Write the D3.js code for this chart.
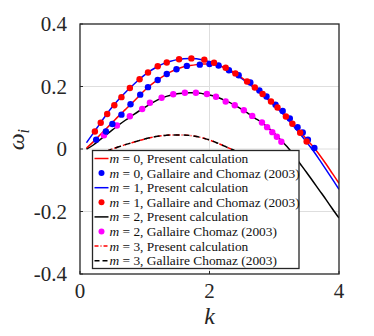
<!DOCTYPE html>
<html>
<head>
<meta charset="utf-8">
<script src="https://cdn.jsdelivr.net/npm/d3@7"></script>
<style>
body { margin:0; background:#fff; }
</style>
</head>
<body>
<svg id="chart" width="374" height="336"></svg>
<script>
// wavenumber k / growth rate omega_i
var m0_line = [[0.1,0.003],[0.2,0.022],[0.3,0.043],[0.4,0.064],[0.5,0.085],[0.6,0.106],[0.7,0.126],[0.8,0.146],[0.9,0.167],[1.0,0.188],
  [1.1,0.206],[1.2,0.221],[1.3,0.235],[1.4,0.247],[1.5,0.256],[1.6,0.263],[1.7,0.267],[1.8,0.270],[1.9,0.272],[2.0,0.272],
  [2.1,0.269],[2.2,0.263],[2.3,0.254],[2.4,0.242],[2.5,0.228],[2.6,0.213],[2.7,0.197],[2.8,0.180],[2.9,0.162],[3.0,0.143],
  [3.1,0.123],[3.2,0.101],[3.3,0.078],[3.4,0.055],[3.5,0.031],[3.6,0.008],[3.7,-0.019],[3.8,-0.048],[3.9,-0.079],[4.0,-0.110]];
var m1_line = [[0.1,0.020],[0.2,0.049],[0.3,0.079],[0.4,0.108],[0.5,0.135],[0.6,0.159],[0.7,0.181],[0.8,0.201],[0.9,0.220],[1.0,0.237],
  [1.1,0.252],[1.2,0.264],[1.3,0.274],[1.4,0.281],[1.5,0.286],[1.6,0.289],[1.7,0.290],[1.8,0.289],[1.9,0.285],[2.0,0.279],
  [2.1,0.272],[2.2,0.263],[2.3,0.252],[2.4,0.239],[2.5,0.225],[2.6,0.210],[2.7,0.194],[2.8,0.177],[2.9,0.159],[3.0,0.140],
  [3.1,0.119],[3.2,0.097],[3.3,0.073],[3.4,0.048],[3.5,0.022],[3.6,-0.005],[3.7,-0.035],[3.8,-0.066],[3.9,-0.097],[4.0,-0.129]];
var m2_line = [[0.1,0.000],[0.2,0.012],[0.3,0.028],[0.4,0.045],[0.5,0.061],[0.6,0.077],[0.7,0.092],[0.8,0.106],[0.9,0.120],[1.0,0.133],
  [1.1,0.146],[1.2,0.157],[1.3,0.166],[1.4,0.172],[1.5,0.177],[1.6,0.179],[1.7,0.180],[1.8,0.180],[1.9,0.177],[2.0,0.173],
  [2.1,0.167],[2.2,0.159],[2.3,0.150],[2.4,0.139],[2.5,0.127],[2.6,0.113],[2.7,0.099],[2.8,0.086],[2.9,0.069],[3.0,0.050],
  [3.1,0.029],[3.2,0.007],[3.3,-0.019],[3.4,-0.047],[3.5,-0.075],[3.6,-0.104],[3.7,-0.133],[3.8,-0.162],[3.9,-0.192],[4.0,-0.221]];
var m3_line = [[0.4,-0.008],[0.5,0.000],[0.6,0.007],[0.7,0.014],[0.8,0.020],[0.9,0.026],[1.0,0.032],[1.1,0.037],[1.2,0.041],[1.3,0.043],
  [1.4,0.045],[1.5,0.045],[1.6,0.045],[1.7,0.043],[1.8,0.040],[1.9,0.035],[2.0,0.029],[2.1,0.021],[2.2,0.012],[2.3,0.003],[2.4,-0.006]];

var m0_dots = [[0.25,0.030],[0.40,0.056],[0.50,0.080],[0.64,0.110],[0.78,0.143],[0.93,0.174],[1.05,0.198],[1.20,0.221],[1.34,0.240],
  [1.49,0.255],[1.65,0.266],[1.85,0.270],[2.00,0.272],[2.14,0.267],[2.30,0.252],[2.45,0.236],[2.63,0.213],[2.77,0.187],[2.88,0.168],
  [3.02,0.142],[3.13,0.122],[3.24,0.098],[3.36,0.070],[3.44,0.053],[3.52,0.030],[3.62,0.003]];
var m1_dots = [[0.23,0.056],[0.32,0.084],[0.42,0.112],[0.53,0.140],[0.64,0.166],[0.77,0.195],[0.92,0.223],[1.05,0.245],[1.20,0.265],
  [1.34,0.277],[1.53,0.287],[1.72,0.290],[1.92,0.286],[2.07,0.276],[2.25,0.260],[2.40,0.242],[2.58,0.216],[2.70,0.197],[2.82,0.176],
  [2.95,0.152],[3.05,0.133],[3.18,0.104],[3.28,0.081],[3.40,0.052],[3.50,0.024]];
var m2_dots = [[0.37,0.044],[0.57,0.075],[0.77,0.105],[0.96,0.128],[1.08,0.148],[1.26,0.164],[1.44,0.175],[1.62,0.180],[1.79,0.180],
  [1.96,0.176],[2.10,0.167],[2.25,0.152],[2.39,0.140],[2.53,0.124],[2.66,0.106],[2.81,0.085],[2.89,0.070],[2.97,0.054],[3.04,0.039],[3.11,0.023]];

var x_ticks = [0, 2, 4];
var y_ticks = [-0.4, -0.2, 0, 0.2, 0.4];
var legend_labels = [
  ["0", "Present calculation"],
  ["0", "Gallaire and Chomaz (2003)"],
  ["1", "Present calculation"],
  ["1", "Gallaire and Chomaz (2003)"],
  ["2", "Present calculation"],
  ["2", "Gallaire Chomaz (2003)"],
  ["3", "Present calculation"],
  ["3", "Gallaire Chomaz (2003)"]
];

var FONT = 'Liberation Serif';
var p_left = 80, p_right = 339, p_top = 24, p_bottom = 274;
var svg = d3.select('#chart');
var x = d3.scaleLinear().domain([0, 4]).range([p_left, p_right]);
var y = d3.scaleLinear().domain([-0.4, 0.4]).range([p_bottom, p_top]);

// grid
var grid = svg.append('g').attr('stroke', '#dedede').attr('stroke-width', 1);
grid.selectAll('.gx').data(x_ticks.slice(1, -1)).enter().append('line')
    .attr('x1', d => x(d)).attr('x2', d => x(d)).attr('y1', p_top).attr('y2', p_bottom);
grid.selectAll('.gy').data(y_ticks.slice(1, -1)).enter().append('line')
    .attr('y1', d => y(d)).attr('y2', d => y(d)).attr('x1', p_left).attr('x2', p_right);

svg.append('clipPath').attr('id', 'clip').append('rect')
    .attr('x', p_left).attr('y', p_top).attr('width', p_right - p_left).attr('height', p_bottom - p_top);
var plot = svg.append('g').attr('clip-path', 'url(#clip)');

var line = d3.line().x(d => x(d[0])).y(d => y(d[1])).curve(d3.curveMonotoneX);

function draw_line(data, color, dash){
    plot.append('path').datum(data).attr('d', line)
        .attr('fill', 'none').attr('stroke', color).attr('stroke-width', 1.5)
        .attr('stroke-dasharray', dash || null);
}
function draw_dots(data, color){
    plot.append('g').selectAll('circle').data(data).enter().append('circle')
        .attr('cx', d => x(d[0])).attr('cy', d => y(d[1])).attr('r', 3.2).attr('fill', color);
}

draw_line(m3_line, '#ff0000', '4,2,1,2');
draw_line(m3_line, '#000000', '6,4');
draw_line(m2_line, '#000000');
draw_line(m1_line, '#0000ff');
draw_line(m0_line, '#ff0000');
draw_dots(m2_dots, '#ff00ff');
draw_dots(m0_dots, '#0000ff');
draw_dots(m1_dots, '#ff0000');

// axes box and ticks
var ax = svg.append('g');
ax.append('rect').attr('x', p_left).attr('y', p_top).attr('width', p_right - p_left).attr('height', p_bottom - p_top)
    .attr('fill', 'none').attr('stroke', '#262626').attr('stroke-width', 1.3);
ax.selectAll('.tx').data(x_ticks).enter().append('line')
    .attr('x1', d => x(d)).attr('x2', d => x(d)).attr('y1', p_bottom).attr('y2', p_bottom - 3)
    .attr('stroke', '#262626');
ax.selectAll('.ty').data(y_ticks).enter().append('line')
    .attr('y1', d => y(d)).attr('y2', d => y(d)).attr('x1', p_left).attr('x2', p_left + 3)
    .attr('stroke', '#262626');

ax.selectAll('.lx').data(x_ticks).enter().append('text')
    .attr('x', d => x(d)).attr('y', p_bottom + 24).attr('text-anchor', 'middle')
    .attr('font-family', FONT).attr('font-size', 21).attr('fill', '#262626').text(d => d);
ax.selectAll('.ly').data(y_ticks).enter().append('text')
    .attr('x', p_left - 13).attr('y', d => y(d) + 7).attr('text-anchor', 'end')
    .attr('font-family', FONT).attr('font-size', 21).attr('fill', '#262626')
    .text(d => d === 0 ? '0' : d3.format('.1f')(d).replace('−', '-'));

svg.append('text').attr('x', x(2)).attr('y', 324).attr('text-anchor', 'middle')
    .attr('font-family', FONT).attr('font-size', 24).attr('font-style', 'italic').attr('fill', '#262626').text('k');
var yl = svg.append('text').attr('transform', 'translate(24,' + y(0.03) + ') rotate(-90)')
    .attr('text-anchor', 'middle').attr('font-family', FONT).attr('font-size', 24).attr('fill', '#262626');
yl.append('tspan').attr('font-style', 'italic').text('ω');
yl.append('tspan').attr('font-style', 'italic').attr('font-size', 16).attr('dy', 5).text('i');

// legend
var lg = svg.append('g');
var lg_x = 92.5, lg_y = 150.5, lg_w = 206.5, lg_h = 118, row = 14.6;
lg.append('rect').attr('x', lg_x).attr('y', lg_y).attr('width', lg_w).attr('height', lg_h)
    .attr('fill', '#fff').attr('stroke', '#262626').attr('stroke-width', 1.3);
var styles = [
    {type:'line', color:'#ff0000'},
    {type:'dot', color:'#0000ff'},
    {type:'line', color:'#0000ff'},
    {type:'dot', color:'#ff0000'},
    {type:'line', color:'#000000'},
    {type:'dot', color:'#ff00ff'},
    {type:'line', color:'#ff0000', dash:'4,2,1,2'},
    {type:'line', color:'#000000', dash:'5,3'}
];
legend_labels.forEach(function(lab, i){
    var cy = lg_y + 8 + i * row;
    var s = styles[i];
    if (s.type === 'line') {
        lg.append('line').attr('x1', lg_x + 2).attr('x2', lg_x + 16).attr('y1', cy).attr('y2', cy)
            .attr('stroke', s.color).attr('stroke-width', 1.5).attr('stroke-dasharray', s.dash || null);
    } else {
        lg.append('circle').attr('cx', lg_x + 9).attr('cy', cy).attr('r', 3).attr('fill', s.color);
    }
    var t = lg.append('text').attr('x', lg_x + 17).attr('y', cy + 4.5)
        .attr('font-family', FONT).attr('font-size', 13.4).attr('fill', '#111');
    t.append('tspan').attr('font-style', 'italic').text('m');
    t.append('tspan').text(' = ' + lab[0] + ', ' + lab[1]);
});
</script>
</body>
</html>
